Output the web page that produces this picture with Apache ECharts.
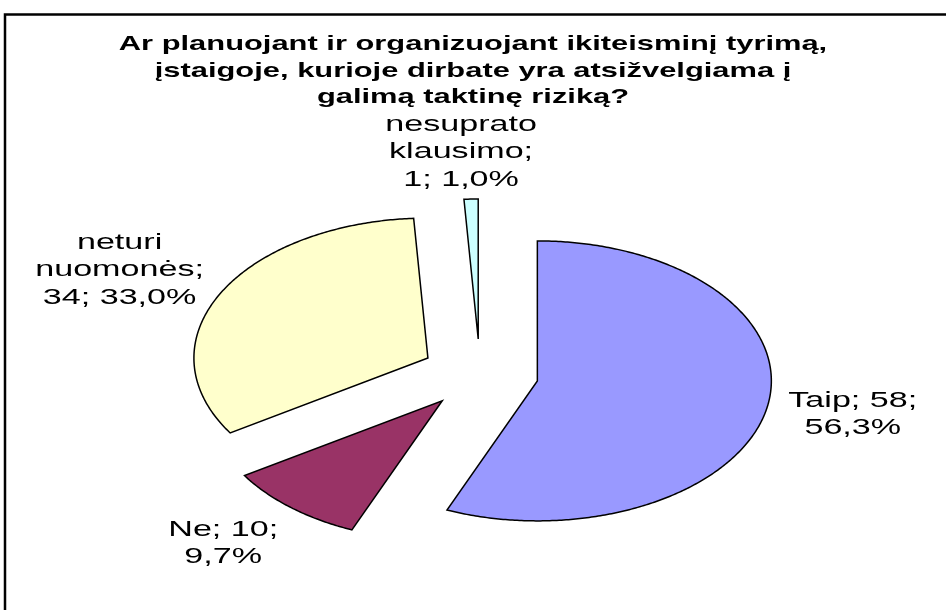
<!DOCTYPE html>
<html>
<head>
<meta charset="utf-8" />
<title>Taktinė rizika</title>
<script src="https://cdn.jsdelivr.net/npm/echarts@6.0.0/dist/echarts.min.js"></script>
<style>
    html, body { margin: 0; padding: 0; background: #fff; }
    #main { width: 946px; height: 610px; }
</style>
</head>
<body>
<div id="main"></div>
<script type="text/javascript">
    var titleLines = [
        'Ar planuojant ir organizuojant ikiteisminį tyrimą,',
        'įstaigoje, kurioje dirbate yra atsižvelgiama į',
        'galimą taktinę riziką?'
    ];
    var categories = ['Taip', 'Ne', 'neturi\nnuomonės', 'nesuprato\nklausimo'];
    var counts = [58, 10, 34, 1];
    var colors = ['#9999FF', '#993366', '#FFFFCC', '#CCFFFF'];

    var total = 0;
    var starts = [];
    for (var i = 0; i < counts.length; i++) {
        starts.push(total);
        total += counts[i];
    }

    // every slice pulled out of the centre (radius units)
    var explode = 0.25;
    // label centre relative to the slice's outer edge midpoint, px
    var labelShift = [[86, 6], [-68, 36], [-100, -24], [-10, -47]];
    // the original picture is stretched sideways
    var textStretch = 1.55;
    var labelFont = '22px "Liberation Sans", Arial, sans-serif';

    function labelText(i) {
        var pct = (counts[i] / total * 100).toFixed(1).replace('.', ',') + '%';
        if (categories[i].indexOf('\n') >= 0) {
            return categories[i] + ';\n' + counts[i] + '; ' + pct;
        }
        return categories[i] + '; ' + counts[i] + ';\n' + pct;
    }

    function renderSlice(params, api) {
        var i = params.dataIndex;
        var v = api.value(2);
        var a0 = starts[i] / total * Math.PI * 2;
        var a1 = (starts[i] + v) / total * Math.PI * 2;
        var mid = (a0 + a1) / 2;
        var ox = explode * Math.sin(mid);
        var oy = explode * Math.cos(mid);
        var pts = [api.coord([ox, oy])];
        var n = Math.max(2, Math.ceil((a1 - a0) / 0.01));
        for (var k = 0; k <= n; k++) {
            var a = a0 + (a1 - a0) * k / n;
            pts.push(api.coord([ox + Math.sin(a), oy + Math.cos(a)]));
        }
        var edge = api.coord([ox + Math.sin(mid), oy + Math.cos(mid)]);
        return {
            type: 'group',
            children: [{
                type: 'polygon',
                shape: { points: pts },
                style: { fill: colors[i], stroke: '#000', lineWidth: 1.5, lineJoin: 'miter' }
            }, {
                type: 'text',
                x: edge[0] + labelShift[i][0],
                y: edge[1] + labelShift[i][1],
                scaleX: textStretch,
                style: {
                    text: labelText(i), x: 0, y: 0,
                    align: 'center', verticalAlign: 'middle',
                    font: labelFont, lineHeight: 27.5, fill: '#000'
                }
            }]
        };
    }

    var myChart = echarts.init(document.getElementById('main'));
    var option = {
        animation: false,
        backgroundColor: '#fff',
        grid: { left: 246, top: 234, width: 468, height: 280 },
        xAxis: { type: 'value', min: -1, max: 1, show: false },
        yAxis: { type: 'value', min: -1, max: 1, show: false },
        graphic: [{
            type: 'rect',
            silent: true,
            shape: { x: 5, y: 14.5, width: 1200, height: 1200 },
            style: { fill: 'none', stroke: '#000', lineWidth: 2.5 }
        }, {
            type: 'text',
            x: 473,
            y: 71,
            scaleX: 1.47,
            style: {
                text: titleLines.join('\n'),
                align: 'center', verticalAlign: 'middle',
                font: 'bold 21px "Liberation Sans", Arial, sans-serif',
                lineHeight: 26.5, fill: '#000'
            }
        }],
        series: [{
            type: 'custom',
            clip: false,
            renderItem: renderSlice,
            encode: { x: 0, y: 1 },
            data: counts.map(function (c) { return [0, 0, c]; })
        }]
    };
    myChart.setOption(option);
</script>
</body>
</html>
